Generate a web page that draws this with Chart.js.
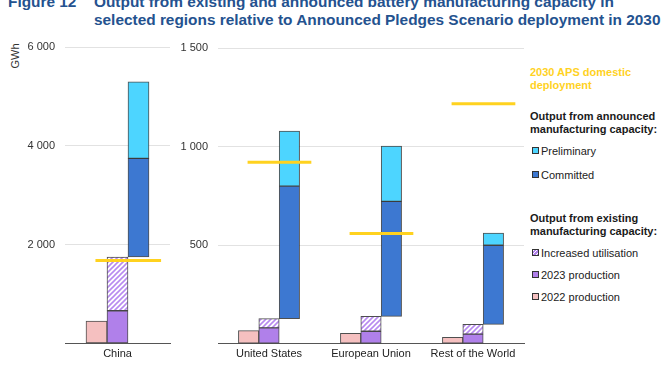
<!DOCTYPE html>
<html lang="en">
<head>
<meta charset="UTF-8">
<title>Battery manufacturing output vs APS deployment</title>
<script src="https://cdn.jsdelivr.net/npm/chart.js"></script>
<style>
    body { margin: 0; width: 672px; height: 372px; overflow: hidden; background: #fff; position: relative;
           font-family: 'Liberation Sans', Arial, sans-serif; }
    .title { position: absolute; top: -7px; font-size: 15.4px; font-weight: bold; color: #24528F; line-height: 18px; white-space: nowrap; }
    .box { position: absolute; }
    .unit { position: absolute; left: 2px; top: 50px; font-size: 11px; color: #333; transform: rotate(-90deg); transform-origin: center; }
    .leg { position: absolute; left: 530px; font-size: 11px; line-height: 12.5px; color: #1a1a1a; white-space: nowrap; }
    .leg b { font-weight: bold; }
    .item { position: absolute; left: 532px; font-size: 11px; color: #222; white-space: nowrap; line-height: 13px; }
    .item i { display: inline-block; width: 5px; height: 5px; border: 1px solid #333; margin-right: 2px; vertical-align: 1px; }
</style>
</head>
<body>
    <div class="title" style="left:8px">Figure 12</div>
    <div class="title" style="left:94px">Output from existing and announced battery manufacturing capacity in<br>selected regions relative to Announced Pledges Scenario deployment in 2030</div>

    <div class="unit">GWh</div>

    <div class="box" style="left:0; top:0; width:175px; height:372px;"><canvas id="chinaChart"></canvas></div>
    <div class="box" style="left:170px; top:0; width:360px; height:372px;"><canvas id="otherChart"></canvas></div>

    <div class="leg" style="top:66px; color:#FFD21F;"><b>2030 APS domestic<br>deployment</b></div>
    <div class="leg" style="top:110px;"><b>Output from announced<br>manufacturing capacity:</b></div>
    <div class="item" style="top:145px;"><i style="background:#4DD5FF"></i>Preliminary</div>
    <div class="item" style="top:169px;"><i style="background:#3D78D1"></i>Committed</div>
    <div class="leg" style="top:212px;"><b>Output from existing<br>manufacturing capacity:</b></div>
    <div class="item" style="top:247px;"><i style="background:repeating-linear-gradient(135deg,#fff 0 1px,#B080EA 1px 2.5px)"></i>Increased utilisation</div>
    <div class="item" style="top:269px;"><i style="background:#B080EA"></i>2023 production</div>
    <div class="item" style="top:291px;"><i style="background:#F5C0C0"></i>2022 production</div>

<script>
    // regions: China on its own axis, the rest on a second one
    const chinaLabels = ['China'];
    const otherLabels = ['United States', 'European Union', 'Rest of the World'];

    // GWh, order: China, United States, European Union, Rest of the World
    const prod2022 = [450, 66, 53, 32];
    const prod2023 = [660, 80, 63, 49];
    const increasedTop = [1750, 127, 139, 98];     // 2023 + increased utilisation
    const committedTop = [3750, 800, 723, 500];    // sits on top of existing capacity
    const preliminaryTop = [5300, 1080, 1003, 562];
    const apsDeployment = [1680, 922, 560, 1218];

    const chinaTicks = [0, 2000, 4000, 6000];
    const otherTicks = [0, 500, 1000, 1500];

    // column offsets inside each region (2022 | 2023+increase | announced)
    const colShift = [-0.2, 0, 0.2];

    Chart.defaults.font.family = "'Liberation Sans', Arial, sans-serif";
    Chart.defaults.font.size = 11;

    const edge = 'rgba(35,35,35,0.8)';

    function hatchFor(ctx) {
        const c = document.createElement('canvas');
        c.width = 5; c.height = 5;
        const g = c.getContext('2d');
        g.fillStyle = '#fff';
        g.fillRect(0, 0, 5, 5);
        g.strokeStyle = '#B88AF0';
        g.lineWidth = 1.6;
        g.beginPath();
        g.moveTo(0, 5); g.lineTo(5, 0);
        g.moveTo(-1, 1); g.lineTo(1, -1);
        g.moveTo(4, 6); g.lineTo(6, 4);
        g.stroke();
        return ctx.createPattern(c, 'repeat');
    }

    function fmt(v) {
        if (v === 0) return '';
        return String(v).replace(/\B(?=(\d{3})+(?!\d))/g, ' ');
    }

    function bar(label, col, lows, highs, color) {
        return {
            type: 'bar', label,
            data: highs.map((v, i) => ({ x: i + colShift[col], y: [lows[i], v] })),
            backgroundColor: color, borderColor: edge, borderWidth: 1, borderSkipped: false,
            grouped: false, categoryPercentage: 1, barPercentage: 1,
            xAxisID: 'x2', yAxisID: 'y'
        };
    }

    function makeChart(id, labels, from, ticks, axisWidth, padTop, padRight, bottom) {
        const pick = arr => arr.slice(from, from + labels.length);
        const p22 = pick(prod2022), p23 = pick(prod2023), inc = pick(increasedTop);
        const com = pick(committedTop), pre = pick(preliminaryTop), aps = pick(apsDeployment);
        const zeros = p22.map(() => 0);

        // short APS marker across the middle and right column of each region
        const apsPoints = [];
        aps.forEach((v, i) => {
            apsPoints.push({ x: i - 0.21, y: v }, { x: i + 0.415, y: v }, { x: i + 0.5, y: null });
        });

        const canvas = document.getElementById(id);
        const ctx = canvas.getContext('2d');

        return new Chart(canvas, {
            type: 'bar',
            data: {
                labels,
                datasets: [
                    {
                        type: 'line', label: '2030 APS domestic deployment', data: apsPoints,
                        xAxisID: 'x2', yAxisID: 'y', borderColor: '#FFD21F', borderWidth: 3,
                        pointRadius: 0, spanGaps: false, order: -1
                    },
                    bar('2022 production', 0, zeros, p22, '#F5C0C0'),
                    bar('2023 production', 1, zeros, p23, '#B080EA'),
                    bar('Increased utilisation', 1, p23, inc, hatchFor(ctx)),
                    bar('Committed', 2, inc, com, '#3D78D1'),
                    bar('Preliminary', 2, com, pre, '#4DD5FF')
                ]
            },
            options: {
                responsive: true,
                maintainAspectRatio: false,
                animation: false,
                layout: { padding: { top: padTop, right: padRight, left: 0, bottom: 0 } },
                plugins: { legend: { display: false }, tooltip: { enabled: false } },
                scales: {
                    x: {
                        type: 'category',
                        offset: true,
                        grid: { display: false, drawTicks: false },
                        border: { display: true, color: '#555', width: 1 },
                        ticks: { color: '#222', padding: 4, maxRotation: 0, autoSkip: false },
                        afterFit: s => { s.height = 372 - bottom; }
                    },
                    x2: {
                        type: 'linear', display: false, offset: false,
                        min: -0.5, max: labels.length - 0.5,
                        ticks: { stepSize: 1 }
                    },
                    y: {
                        min: ticks[0],
                        max: ticks[ticks.length - 1],
                        ticks: { stepSize: ticks[1] - ticks[0], color: '#333', padding: 10, callback: fmt },
                        grid: { color: '#e2e2e2', drawTicks: false },
                        border: { display: false },
                        afterFit: s => { s.width = axisWidth; }
                    }
                }
            }
        });
    }

    makeChart('chinaChart', chinaLabels, 0, chinaTicks, 65, 47.3, 5, 343.3);
    makeChart('otherChart', otherLabels, 1, otherTicks, 48, 48.3, 6, 343.7);
</script>
</body>
</html>
